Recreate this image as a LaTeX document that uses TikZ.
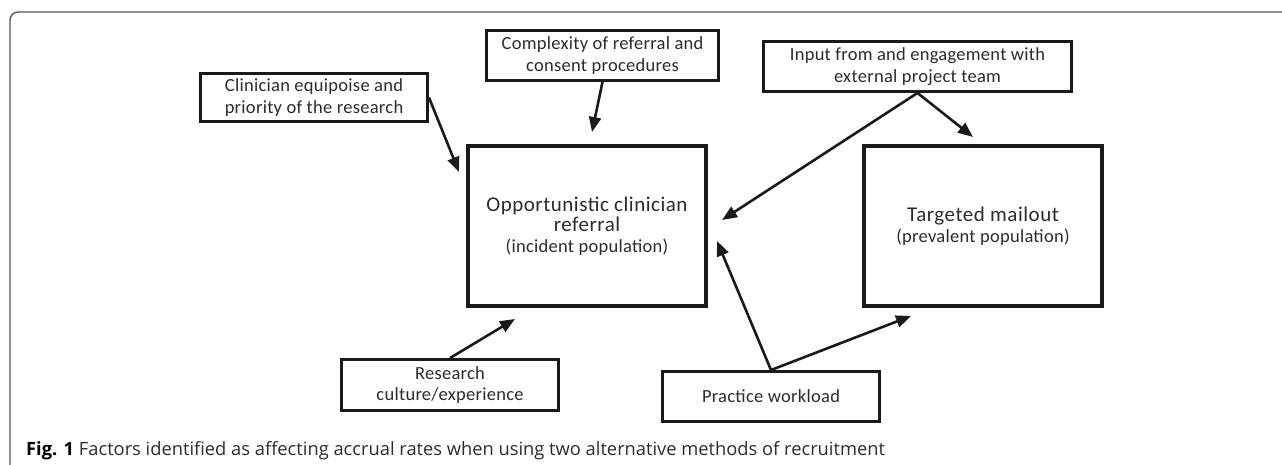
\documentclass[tikz,border=0pt]{standalone}
\usepackage{fontspec}
\setmainfont{Carlito}
\newfontfamily\boxfont{Carlito}[LetterSpace=1.5]
\newfontfamily\bigfont{Carlito}[LetterSpace=2.5]
\newfontfamily\capfont{Open Sans}
\usetikzlibrary{arrows.meta}
\definecolor{linecol}{HTML}{1A1A1A}
\definecolor{txtcol}{HTML}{2B2B2B}
\definecolor{framecol}{HTML}{555555}
\begin{document}
\begin{tikzpicture}[x=1pt,y=-1pt,
  factor/.style={draw=linecol, line width=3.4pt, inner sep=0pt, align=center,
    text=txtcol, font=\boxfont\fontsize{18.5}{21.5}\selectfont},
  method/.style={draw=linecol, line width=3.8pt, inner sep=0pt, align=center,
    text=txtcol, minimum width=238pt, minimum height=160pt,
    font=\bigfont\fontsize{21}{20.5}\selectfont},
  arr/.style={draw=linecol, line width=2.6pt,
    -{Triangle[length=15pt,width=12pt]}}]
\useasboundingbox (0,0) rectangle (1282,465);

% outer frame
\draw[framecol, line width=1.4pt, rounded corners=8pt] (10,465) -- (10,12) -- (1282,12);

% factor boxes
\node[factor, minimum width=226.5pt, minimum height=47.5pt] (clin) at (314,97.5)
  {Clinician equipoise and\\priority of the research};
\node[factor, minimum width=231.5pt, minimum height=49.5pt] (comp) at (602.5,55.5)
  {Complexity of referral and\\consent procedures};
\node[factor, minimum width=307.5pt, minimum height=49.5pt] (input) at (917.5,66.5)
  {Input from and engagement with\\external project team};
\node[factor, minimum width=216.5pt, minimum height=50.5pt] (res) at (450,385)
  {Research\\culture/experience};
\node[factor, minimum width=216.5pt, minimum height=49.5pt] (prac) at (771,396.5)
  {Practice workload};

% method boxes
\node[method] (opp) at (587,226)
  {Opportunistic clinician\\referral\\{\boxfont\fontsize{18.5}{20}\selectfont (incident population)}};
\node[method] (targ) at (983,226)
  {Targeted mailout\\{\boxfont\fontsize{18.5}{19}\selectfont (prevalent population)}};

% arrow tips
\coordinate (tClin) at (459,172);
\coordinate (tComp) at (592,132);
\coordinate (tInL) at (722,220);
\coordinate (tInR) at (973,137);
\coordinate (tRes) at (515,319);
\coordinate (tPrL) at (717,241);
\coordinate (tPrR) at (911,316);

\draw[arr] (clin.east) -- (tClin);
\draw[arr] (comp.south) -- (tComp);
\draw[arr] (input.south) -- (tInL);
\draw[arr] (input.south) -- (tInR);
\draw[arr] (res.north) -- (tRes);
\draw[arr] (prac.north) -- (tPrL);
\draw[arr] (prac.north) -- (tPrR);

% caption
\node[anchor=base west, inner sep=0pt, text=txtcol,
  font=\capfont\fontsize{18.3}{20}\selectfont] (cap) at (26,455)
  {{\color{black}\textbf{Fig. 1}} Factors identified as affecting accrual rates when using two alternative methods of recruitment};
\end{tikzpicture}
\end{document}
